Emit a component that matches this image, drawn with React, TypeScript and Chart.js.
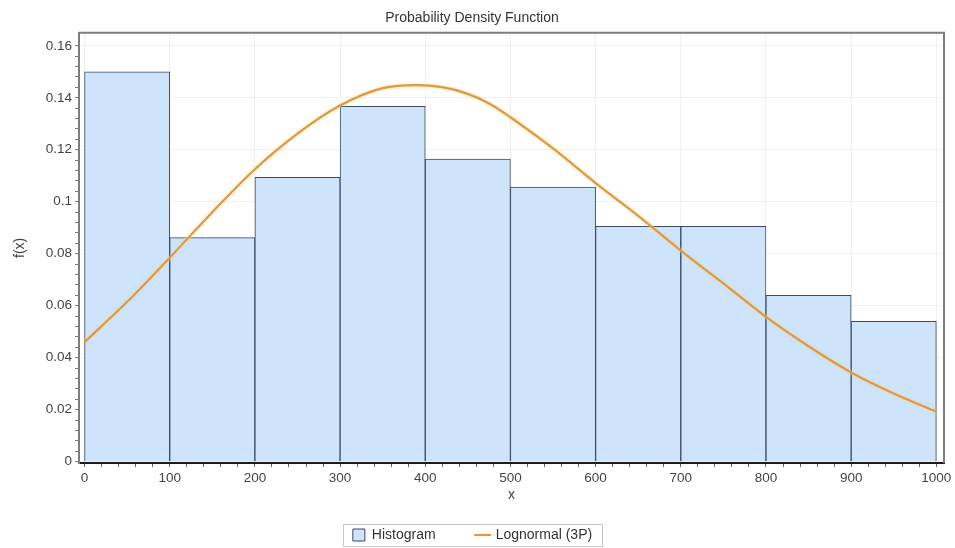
import React, { useEffect, useRef } from 'react';
import { Chart, registerables } from 'chart.js';

Chart.register(...registerables);

// ---- data ----
const chartTitle = 'Probability Density Function';
const seriesNames = ['Histogram', 'Lognormal (3P)'];
const xAxisTitle = 'x';
const yAxisTitle = 'f(x)';

const binCenters = [50, 150, 250, 350, 450, 550, 650, 750, 850, 950];
const histValues = [0.150, 0.0862, 0.1094, 0.1367, 0.1164, 0.1056, 0.0905, 0.0905, 0.064, 0.054];

const curveX = [0, 50, 100, 150, 200, 250, 300, 350, 390, 420, 450, 475, 500, 550, 600, 650, 700, 750, 800, 850, 900, 950, 1000];
const curveY = [0.046, 0.0615, 0.0785, 0.096, 0.1125, 0.1262, 0.137, 0.1437, 0.1449, 0.1441, 0.1415, 0.1378, 0.1325, 0.1205, 0.1072, 0.0946, 0.0812, 0.0686, 0.0557, 0.0444, 0.0343, 0.0262, 0.0192];

const xTickValues = [0, 100, 200, 300, 400, 500, 600, 700, 800, 900, 1000];
const xTickLabels = ['0', '100', '200', '300', '400', '500', '600', '700', '800', '900', '1000'];
const yTickValues = [0, 0.02, 0.04, 0.06, 0.08, 0.1, 0.12, 0.14, 0.16];
const yTickLabels = ['0', '0.02', '0.04', '0.06', '0.08', '0.1', '0.12', '0.14', '0.16'];

const FONT = '"Liberation Sans", Arial, sans-serif';

function withMinor(majors: number[], labels: string[], parts: number) {
  const out: any[] = [];
  for (let i = 0; i < majors.length; i++) {
    out.push({ value: majors[i], lbl: labels[i] });
    if (i < majors.length - 1) {
      const step = (majors[i + 1] - majors[i]) / parts;
      for (let k = 1; k < parts; k++) out.push({ value: majors[i] + k * step });
    }
  }
  return out;
}

const framePlugin = {
  id: 'frameAndLegend',
  afterLayout(chart: any) {
    const lg = chart.legend;
    if (!lg) return;
    lg.top = 487;
    lg.bottom = 548;
    lg.height = lg.bottom - lg.top;
    lg.left = 0;
    lg.right = 945;
    lg.width = lg.right - lg.left;
  },
  beforeDatasetDraw(chart: any, args: any) {
    if (args.index === 1) {
      const c = chart.ctx;
      c.save();
      c.shadowColor = 'rgba(255,210,130,0.85)';
      c.shadowBlur = 3;
    }
  },
  afterDatasetDraw(chart: any, args: any) {
    if (args.index === 1) chart.ctx.restore();
  },
  afterDraw(chart: any) {
    const { ctx, chartArea: a } = chart;
    ctx.save();
    ctx.strokeStyle = '#7d7d7d';
    ctx.lineWidth = 2;
    ctx.beginPath();
    ctx.moveTo(a.left, a.top);
    ctx.lineTo(a.right, a.top);
    ctx.lineTo(a.right, a.bottom);
    ctx.stroke();

    // legend frame
    const lg = chart.legend;
    if (lg && lg.legendItems) {
      const lo = lg.options.labels;
      const fs = 14;
      const P = lo.padding;
      const bw = lo.boxWidth;
      ctx.font = `${fs}px ${FONT}`;
      const widths = lg.legendItems.map((it: any) => bw + fs / 2 + ctx.measureText(it.text).width);
      const sum = widths.reduce((s: number, w: number) => s + w, 0);
      const lineW = sum + P * widths.length;
      const startX = (lg.left + P + lg.right - lineW) / 2;
      const endX = startX + sum + P * (widths.length - 1);
      ctx.strokeStyle = '#c9c9c9';
      ctx.lineWidth = 1;
      ctx.strokeRect(Math.round(startX - 10) + 0.5, 524.5, Math.round(endX - startX + 20), 22);
    }
    ctx.restore();
  },
};

export default function App() {
  const ref = useRef<HTMLCanvasElement | null>(null);

  useEffect(() => {
    if (!ref.current) return;
    const histData = binCenters.map((x, i) => ({ x, y: histValues[i] }));
    const curveData = curveX.map((x, i) => ({ x, y: curveY[i] }));

    const chart = new Chart(ref.current, {
      type: 'bar',
      data: {
        datasets: [
          {
            type: 'bar',
            label: seriesNames[0],
            data: histData as any,
            backgroundColor: '#cde4fb',
            borderColor: '#3b4b66',
            borderWidth: 1,
            barThickness: 'flex' as any,
            barPercentage: 1,
            categoryPercentage: 1,
            order: 2,
          },
          {
            type: 'line',
            label: seriesNames[1],
            data: curveData as any,
            borderColor: '#dc9a44',
            backgroundColor: '#dc9a44',
            borderWidth: 2.2,
            pointRadius: 0,
            cubicInterpolationMode: 'monotone',
            fill: false,
            order: 1,
          } as any,
        ],
      },
      options: {
        animation: false,
        responsive: true,
        maintainAspectRatio: false,
        layout: { padding: { left: 0, right: 11, top: 0, bottom: 0 } },
        plugins: {
          tooltip: { enabled: false },
          title: {
            display: true,
            text: chartTitle,
            color: '#333',
            font: { family: FONT, size: 14, weight: 'normal' },
            padding: { top: 10, bottom: 6 },
          },
          legend: {
            position: 'bottom',
            maxHeight: 40,
            labels: {
              usePointStyle: true,
              boxWidth: 12,
              boxHeight: 12,
              padding: 41,
              color: '#333',
              font: { family: FONT, size: 14 },
              sort: (a: any, b: any) => a.datasetIndex - b.datasetIndex,
              generateLabels(ch: any) {
                const items = (Chart.defaults.plugins.legend.labels.generateLabels as any)(ch);
                return items
                  .map((it: any) => ({
                    ...it,
                    pointStyle: it.datasetIndex === 0 ? 'rect' : 'line',
                  }))
                  .sort((a: any, b: any) => a.datasetIndex - b.datasetIndex);
              },
            },
          } as any,
        },
        scales: {
          x: {
            type: 'linear',
            offset: false,
            min: -6.5,
            max: 1009,
            afterBuildTicks: (s: any) => {
              s.ticks = withMinor(xTickValues, xTickLabels, 5);
            },
            afterFit: (s: any) => {
              s.height = 45;
              s.paddingLeft = 0;
              s.paddingRight = 0;
            },
            ticks: {
              autoSkip: false,
              maxRotation: 0,
              padding: 3,
              color: '#444',
              font: { family: FONT, size: 13.5 },
              callback: (_v: any, i: number, ticks: any[]) => (ticks[i] && ticks[i].lbl) || '',
            },
            grid: {
              offset: false,
              color: (c: any) => (c.tick && c.tick.lbl !== undefined ? '#f0f0f0' : 'rgba(0,0,0,0)'),
              tickColor: '#666',
              tickLength: 4,
              lineWidth: 1,
            },
            border: { display: true, color: '#1c1c1c', width: 2 },
            title: {
              display: true,
              text: xAxisTitle,
              color: '#444',
              font: { family: FONT, size: 14 },
              padding: { top: 2, bottom: 4 },
            },
          },
          y: {
            type: 'linear',
            min: -0.0005,
            max: 0.165,
            afterBuildTicks: (s: any) => {
              s.ticks = withMinor(yTickValues, yTickLabels, 5);
            },
            afterFit: (s: any) => {
              s.width = 79;
              s.paddingTop = 0;
              s.paddingBottom = 0;
            },
            ticks: {
              autoSkip: false,
              padding: 3,
              color: '#444',
              font: { family: FONT, size: 13.5 },
              callback: (_v: any, i: number, ticks: any[]) => (ticks[i] && ticks[i].lbl) || '',
            },
            grid: {
              color: (c: any) => (c.tick && c.tick.lbl !== undefined ? '#f0f0f0' : 'rgba(0,0,0,0)'),
              tickColor: '#777',
              tickLength: 4,
              lineWidth: 1,
            },
            border: { display: true, color: '#7d7d7d', width: 2 },
            title: {
              display: true,
              text: yAxisTitle,
              color: '#444',
              font: { family: FONT, size: 14 },
              padding: { top: 12, bottom: 4 },
            },
          },
        },
      } as any,
      plugins: [framePlugin as any],
    });

    return () => chart.destroy();
  }, []);

  return (
    <div style={{ position: 'absolute', left: 0, top: 0, width: 955, height: 548, background: '#fff' }}>
      <canvas ref={ref} />
    </div>
  );
}
